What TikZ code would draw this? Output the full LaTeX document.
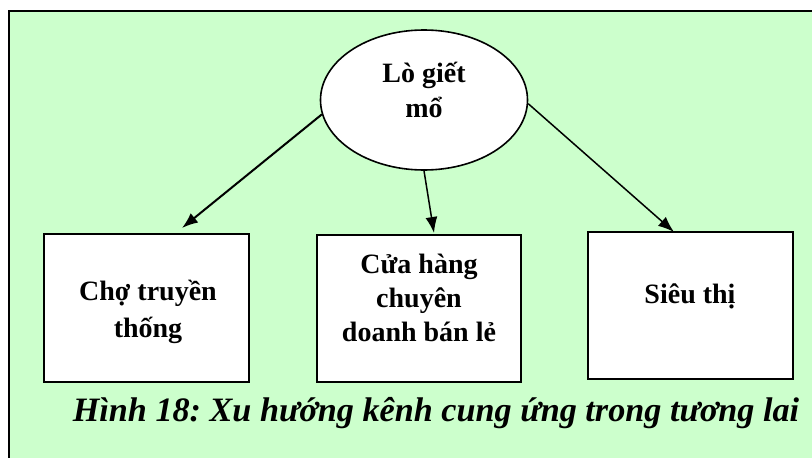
\documentclass[tikz,border=0pt]{standalone}
\usepackage{fontspec}
\setmainfont{Liberation Serif}
\frenchspacing
\usetikzlibrary{shapes.geometric,arrows.meta}
\definecolor{bggreen}{HTML}{CCFFCC}
\tikzset{
  frame/.style={draw=black, line width=2pt, fill=bggreen},
  hub/.style={ellipse, draw=black, line width=1.6pt, fill=white, inner sep=0pt, minimum width=207pt, minimum height=140pt},
  outlet/.style={rectangle, draw=black, line width=2pt, fill=white, inner sep=0pt},
  lbl/.style={font=\fontsize{28}{35}\selectfont\bfseries, align=center, inner sep=0pt},
  captext/.style={font=\fontsize{34.2}{40}\selectfont\bfseries\itshape, inner sep=0pt, anchor=base},
  arr/.style={draw=black, line width=1.8pt, -{Latex[length=16pt,width=12pt]}}
}
\begin{document}
\begin{tikzpicture}[x=1pt,y=-1pt]
\useasboundingbox (0,0) rectangle (812,458);
\clip (0,0) rectangle (812,458);
\fill[white] (0,0) rectangle (812,458);
\draw[frame] (9,11) rectangle (840,490);

\node[hub] (slaughter) at (424,100) {};
\node[lbl] (slaughtertxt) at (424,90) {Lò giết\\mổ};

\node[outlet, minimum width=205pt, minimum height=148pt] (market) at (146.5,308) {};
\node[outlet, minimum width=204pt, minimum height=147pt] (shop) at (419,308.5) {};
\node[outlet, minimum width=205pt, minimum height=147pt] (super) at (690.5,305.5) {};

\node[lbl, font=\fontsize{28}{37}\selectfont\bfseries] (markettxt) at (148,312) {Chợ truyền\\thống};
\node[lbl, font=\fontsize{28}{34}\selectfont\bfseries] (shoptxt) at (419,298) {Cửa hàng\\chuyên\\doanh bán lẻ};
\node[lbl] (supertxt) at (690,296) {Siêu thị};

\coordinate (t1) at (182,228);
\coordinate (t2) at (434,233);
\coordinate (t3) at (674,232);
\draw[arr, line width=2pt] (slaughter.188) -- (t1);
\draw[arr, line width=1.5pt] (slaughter.270) -- (t2);
\draw[arr, line width=1.5pt] (slaughter.358) -- (t3);

\node[captext] (caption) at (436,421) {Hình 18: Xu hướng kênh cung ứng trong tương lai};
\end{tikzpicture}
\end{document}
